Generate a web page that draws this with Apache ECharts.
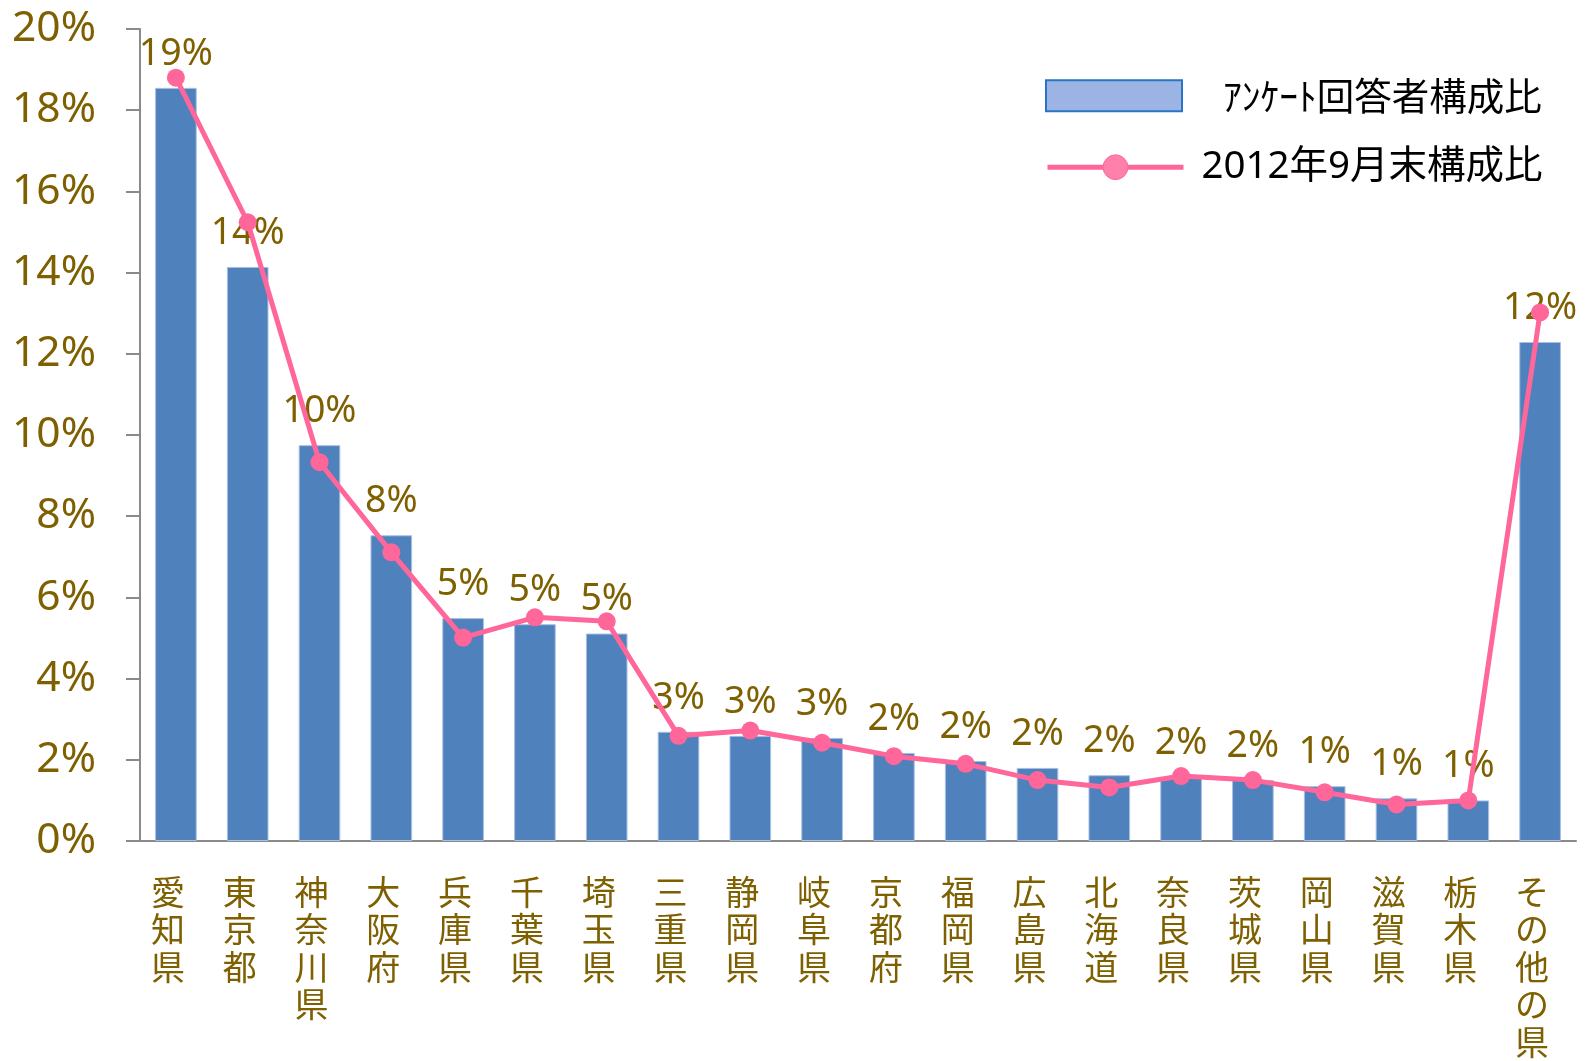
<!DOCTYPE html>
<html>
<head>
<meta charset="utf-8">
<script src="https://cdn.jsdelivr.net/npm/echarts@6/dist/echarts.min.js"></script>
<style>
  html, body { margin: 0; padding: 0; background: #fff; }
  #chart { width: 1587px; height: 1061px; }
</style>
</head>
<body>
<div id="chart"></div>
<script>
// prefectures
const categories = ['愛知県', '東京都', '神奈川県', '大阪府', '兵庫県', '千葉県', '埼玉県', '三重県', '静岡県', '岐阜県',
  '京都府', '福岡県', '広島県', '北海道', '奈良県', '茨城県', '岡山県', '滋賀県', '栃木県', 'その他の県']

// アンケート回答者構成比 (%)
const surveyShare = [18.55, 14.14, 9.75, 7.53, 5.49, 5.34, 5.11, 2.69, 2.59, 2.54,
  2.17, 1.97, 1.80, 1.62, 1.57, 1.50, 1.35, 1.05, 1.00, 12.29]

// 2012年9月末構成比 (%)
const endSep2012Share = [18.80, 15.24, 9.33, 7.11, 5.01, 5.51, 5.41, 2.59, 2.72, 2.42,
  2.09, 1.90, 1.50, 1.32, 1.60, 1.50, 1.20, 0.90, 1.00, 13.02]

const barName = 'ｱﾝｹｰﾄ回答者構成比'
const lineName = '2012年9月末構成比'

const brown = '#7F6000'
const axisGray = '#8a8a8a'
const font = "'Noto Sans', 'Noto Sans CJK JP', sans-serif"

const chart = echarts.init(document.getElementById('chart'))

chart.setOption({
  animation: false,
  textStyle: { fontFamily: font },
  grid: { left: 140, right: 11, top: 29, bottom: 220 },
  legend: [
    {
      left: 1040, top: 72,
      itemWidth: 136, itemHeight: 31,
      data: [{
        name: barName,
        icon: 'rect',
        itemStyle: { color: '#9BB4E3', borderColor: '#2874C6', borderWidth: 2 }
      }],
      textStyle: { color: '#000', fontSize: 37.5, lineHeight: 31, padding: [0, 0, 0, 36], fontFamily: "'Noto Sans CJK JP'" }
    },
    {
      left: 1040, top: 143,
      itemWidth: 136, itemHeight: 31,
      data: [{
        name: lineName,
        itemStyle: { color: '#ff80aa', borderColor: '#ff6699', borderWidth: 1 },
        lineStyle: { color: '#FF6699', width: 5 }
      }],
      textStyle: { color: '#000', fontSize: 38.5, lineHeight: 31, padding: [0, 0, 0, 13], fontFamily: font }
    }
  ],
  xAxis: {
    type: 'category',
    data: categories,
    axisLine: { lineStyle: { color: axisGray, width: 2 } },
    axisTick: { length: 13, lineStyle: { color: axisGray, width: 2 } },
    axisLabel: {
      interval: 0,
      margin: 32,
      color: brown,
      fontSize: 34,
      lineHeight: 37.5,
      fontFamily: "'Noto Sans CJK JP'",
      padding: [0, 16, 0, 0],
      formatter: (val) => val.split('').join('\n')
    }
  },
  yAxis: {
    type: 'value',
    min: 0,
    max: 20,
    interval: 2,
    splitLine: { show: false },
    axisLine: { show: true, lineStyle: { color: axisGray, width: 2 } },
    axisTick: { show: true, length: 14, lineStyle: { color: axisGray, width: 2 } },
    axisLabel: {
      margin: 44,
      color: brown,
      fontSize: 42.5,
      formatter: '{value}%'
    }
  },
  series: [
    {
      name: barName,
      type: 'bar',
      data: surveyShare,
      barCategoryGap: '42%',
      itemStyle: { color: '#4F81BD', borderColor: '#a8c0e2', borderWidth: 1 },
      label: {
        show: true,
        position: 'top',
        distance: 15,
        color: brown,
        fontSize: 37.5,
        formatter: (p) => Math.round(p.value) + '%'
      },
      z: 2
    },
    {
      name: lineName,
      type: 'line',
      data: endSep2012Share,
      symbol: 'circle',
      symbolSize: 18,
      itemStyle: { color: '#FF6699' },
      lineStyle: { color: '#FF6699', width: 5 },
      z: 3
    }
  ]
})
</script>
</body>
</html>
